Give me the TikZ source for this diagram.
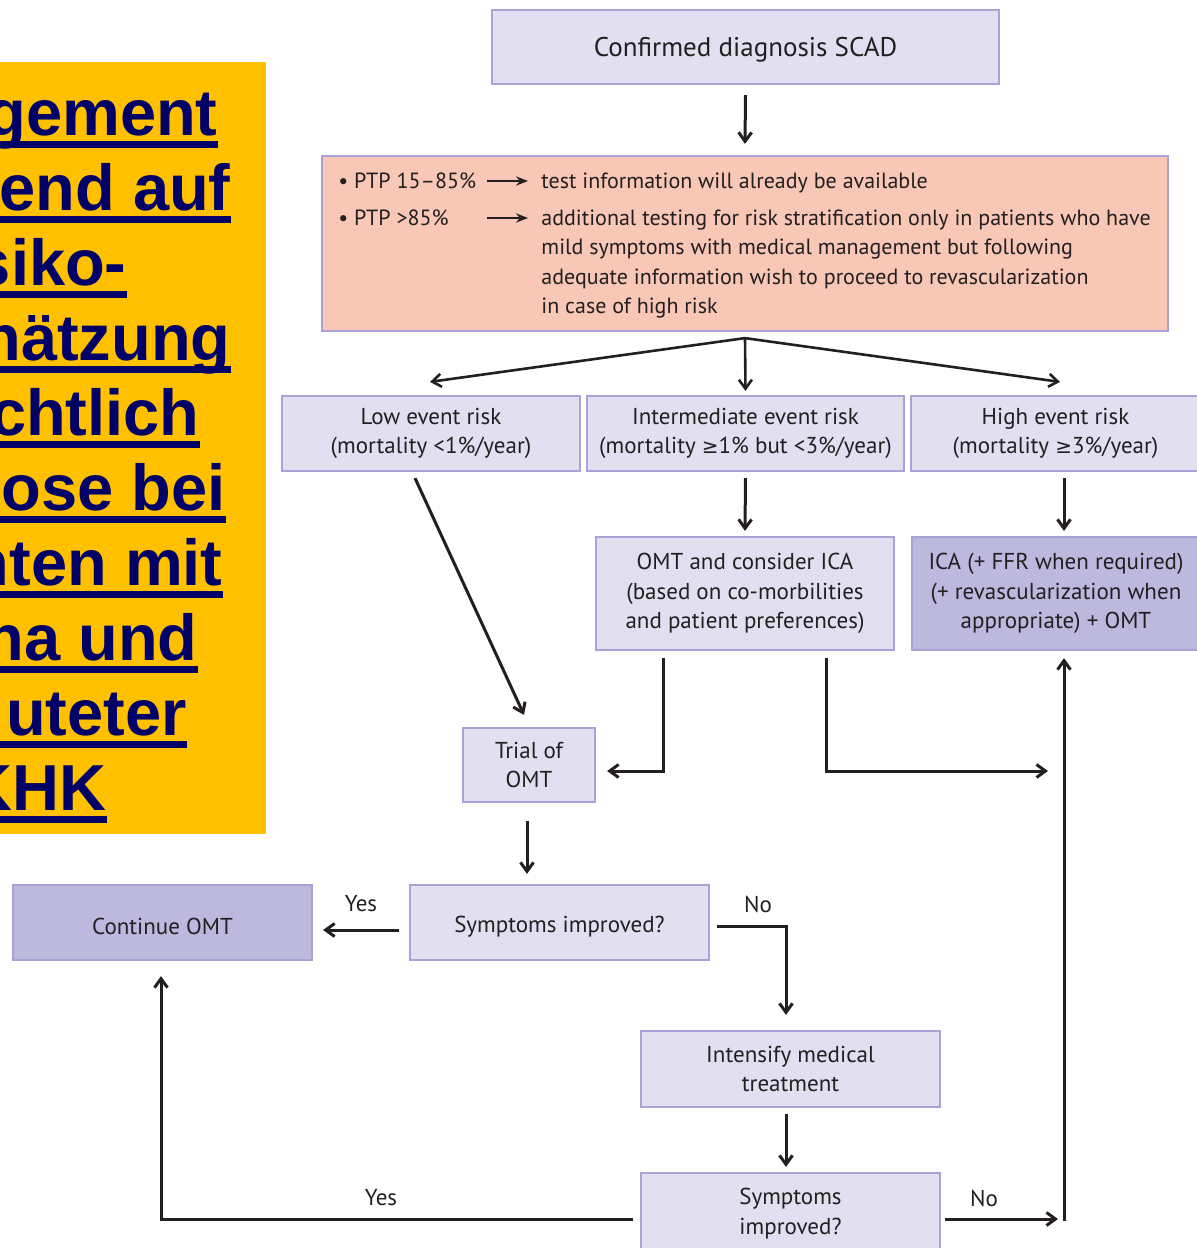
\documentclass[tikz,border=0pt]{standalone}
\usepackage{fontspec}
\setmainfont{PT Sans}
\newfontfamily\headfont{Liberation Sans}
\newfontfamily\symfont{DejaVu Sans}
\usetikzlibrary{arrows.meta,calc}

\definecolor{ink}{HTML}{231F20}
\definecolor{lav}{HTML}{E1DFF0}
\definecolor{lavdark}{HTML}{BCB8DE}
\definecolor{lavline}{HTML}{A8A3D6}
\definecolor{salmon}{HTML}{F8C7B6}
\definecolor{amber}{HTML}{FFC000}
\definecolor{navy}{HTML}{000066}

\newcommand\geqsym{{\symfont\fontsize{10}{10}\selectfont ≥}}

\begin{document}
\begin{tikzpicture}[x=0.5pt,y=-0.5pt,
  box/.style={draw=lavline, line width=1.1pt, fill=lav, text=ink, align=center,
    inner sep=0pt, font=\fontsize{11.5}{14.75}\selectfont,
    execute at begin node={\rule{0pt}{12.6pt}}},
  darkbox/.style={box, fill=lavdark},
  ptext/.style={anchor=base west, inner sep=0pt, text=ink, font=\fontsize{11}{12}\selectfont},
  lbl/.style={text=ink, inner sep=0pt, font=\fontsize{11.5}{12}\selectfont},
  head/.style={anchor=base east, inner sep=0pt, text=navy,
    font=\headfont\bfseries\fontsize{32.5}{38}\selectfont},
  uline/.style={fill=navy},
  link/.style={draw=ink, line width=1.5pt},
  arr/.style={link, -{Straight Barb[length=4.5pt,width=6.5pt]}},
  pointer/.style={draw=ink, line width=0.9pt, -{Stealth[length=6pt,width=4.6pt]}},
]
\useasboundingbox (0,0) rectangle (1196,1248);

% title panel on the left
\fill[amber] (0,62) rectangle (266,834);
\foreach \txt/\rx [count=\k from 0] in {gement/218, end auf/231, siko-/127, hätzung/231,
    chtlich/200, ose bei/226, nten mit/223, na und/198, uteter/187, KHK/107} {
  \node[head] (h\k) at (\rx,{135+75*\k}) {\txt};
  \fill[uline] (-5,{141+75*\k}) rectangle (\rx,{148+75*\k});
}

% boxes
\node[box, minimum width=253.5pt, minimum height=37pt, font=\fontsize{13.5}{16}\selectfont]
  (confirm) at (745.5,47) {Confirmed diagnosis SCAD};
\node[box, fill=salmon, minimum width=423pt, minimum height=87.5pt] (ptp) at (745,243.5) {};

\node[ptext] (b1) at (338,188) {• PTP 15–85\%};
\node[ptext] (b2) at (338,225) {• PTP >85\%};
\coordinate (a1s) at (487,181); \coordinate (a1e) at (528,181);
\coordinate (a2s) at (487,218); \coordinate (a2e) at (528,218);
\draw[pointer] (a1s) -- (a1e);
\draw[pointer] (a2s) -- (a2e);
\node[ptext] (t1) at (541,188) {test information will already be available};
\node[ptext] (t2) at (541,225) {additional testing for risk stratification only in patients who have};
\node[ptext] (t3) at (541,254.5) {mild symptoms with medical management but following};
\node[ptext] (t4) at (541,284) {adequate information wish to proceed to revascularization};
\node[ptext] (t5) at (541,313.5) {in case of high risk};

\node[box, minimum width=149pt, minimum height=37.5pt] (low) at (431,433.5)
  {Low event risk\\(mortality <1\%/year)};
\node[box, minimum width=158.5pt, minimum height=37.5pt] (inter) at (745.5,433.5)
  {Intermediate event risk\\(mortality \geqsym1\% but <3\%/year)};
\node[box, minimum width=144.5pt, minimum height=37.5pt] (high) at (1055.5,433.5)
  {High event risk\\(mortality \geqsym3\%/year)};

\node[box, minimum width=149pt, minimum height=56.5pt] (omt) at (745,593.5)
  {OMT and consider ICA\\(based on co-morbilities\\and patient preferences)};
\node[darkbox, minimum width=144pt, minimum height=56.5pt] (ica) at (1056,593.5)
  {ICA (+ FFR when required)\\(+ revascularization when\\appropriate) + OMT};

\node[box, minimum width=66pt, minimum height=37pt] (trial) at (529,765) {Trial of\\OMT};
\node[box, minimum width=149.5pt, minimum height=37.5pt] (sym1) at (559.5,922.5) {Symptoms improved?};
\node[darkbox, minimum width=149.5pt, minimum height=37.5pt] (cont) at (162.5,922.5) {Continue OMT};
\node[box, minimum width=149.5pt, minimum height=38pt] (intens) at (790.5,1069)
  {Intensify medical\\treatment};
\node[box, minimum width=149.5pt, minimum height=40.5pt] (sym2) at (790.5,1213.5)
  {Symptoms\\improved?};

% connectors
\draw[arr] ($(confirm.south)+(0,10)$) -- ($(ptp.north)+(0,-11)$);

\coordinate (split) at ($(ptp.south)+(0,6)$);
\draw[arr, line width=1.3pt] (split) -- ($(low.north)+(-1,-13)$);
\draw[arr, line width=1.3pt] (split) -- ($(inter.north)+(0,-4)$);
\draw[arr, line width=1.3pt] (split) -- ($(high.north)+(4.5,-13)$);

\draw[arr] ($(inter.south)+(0,6)$) -- ($(omt.north)+(0,-5)$);
\draw[arr] ($(high.south)+(8.5,6)$) -- ($(ica.north)+(8,-5)$);
\draw[arr] ($(low.south)+(-16,6)$) -- ($(trial.north)+(-5,-12)$);

\draw[arr] ($(omt.south)+(-82,7)$) |- ($(trial.east)+(11,6)$);
\coordinate (toica) at (1048,771);
\draw[arr] ($(omt.south)+(81,7)$) |- (toica);

\draw[arr] ($(trial.south)+(-2,18)$) -- ($(sym1.north)+(-32.5,-10)$);
\draw[arr] ($(sym1.west)+(-10,7.5)$) -- ($(cont.east)+(10,7.5)$);
\draw[arr] ($(sym1.east)+(7,3.5)$) -| ($(intens.north)+(-4.5,-15)$);
\draw[arr] ($(intens.south)+(-4.5,6)$) -- ($(sym2.north)+(-4.5,-5)$);
\draw[arr] ($(sym2.west)+(-7,5.5)$) -| ($(cont.south)+(-1.5,15)$);

\coordinate (nofoot) at (1058,1219);
\draw[arr] ($(sym2.east)+(4,5.5)$) -- (nofoot);
\coordinate (riser) at (1064,1221);
\draw[arr] (riser) -- ($(ica.south)+(8,7)$);

% branch labels
\node[lbl] (yes1) at (361,904) {Yes};
\node[lbl] (no1) at (758,904) {No};
\node[lbl] (yes2) at (381,1198) {Yes};
\node[lbl] (no2) at (984,1198) {No};
\end{tikzpicture}
\end{document}
